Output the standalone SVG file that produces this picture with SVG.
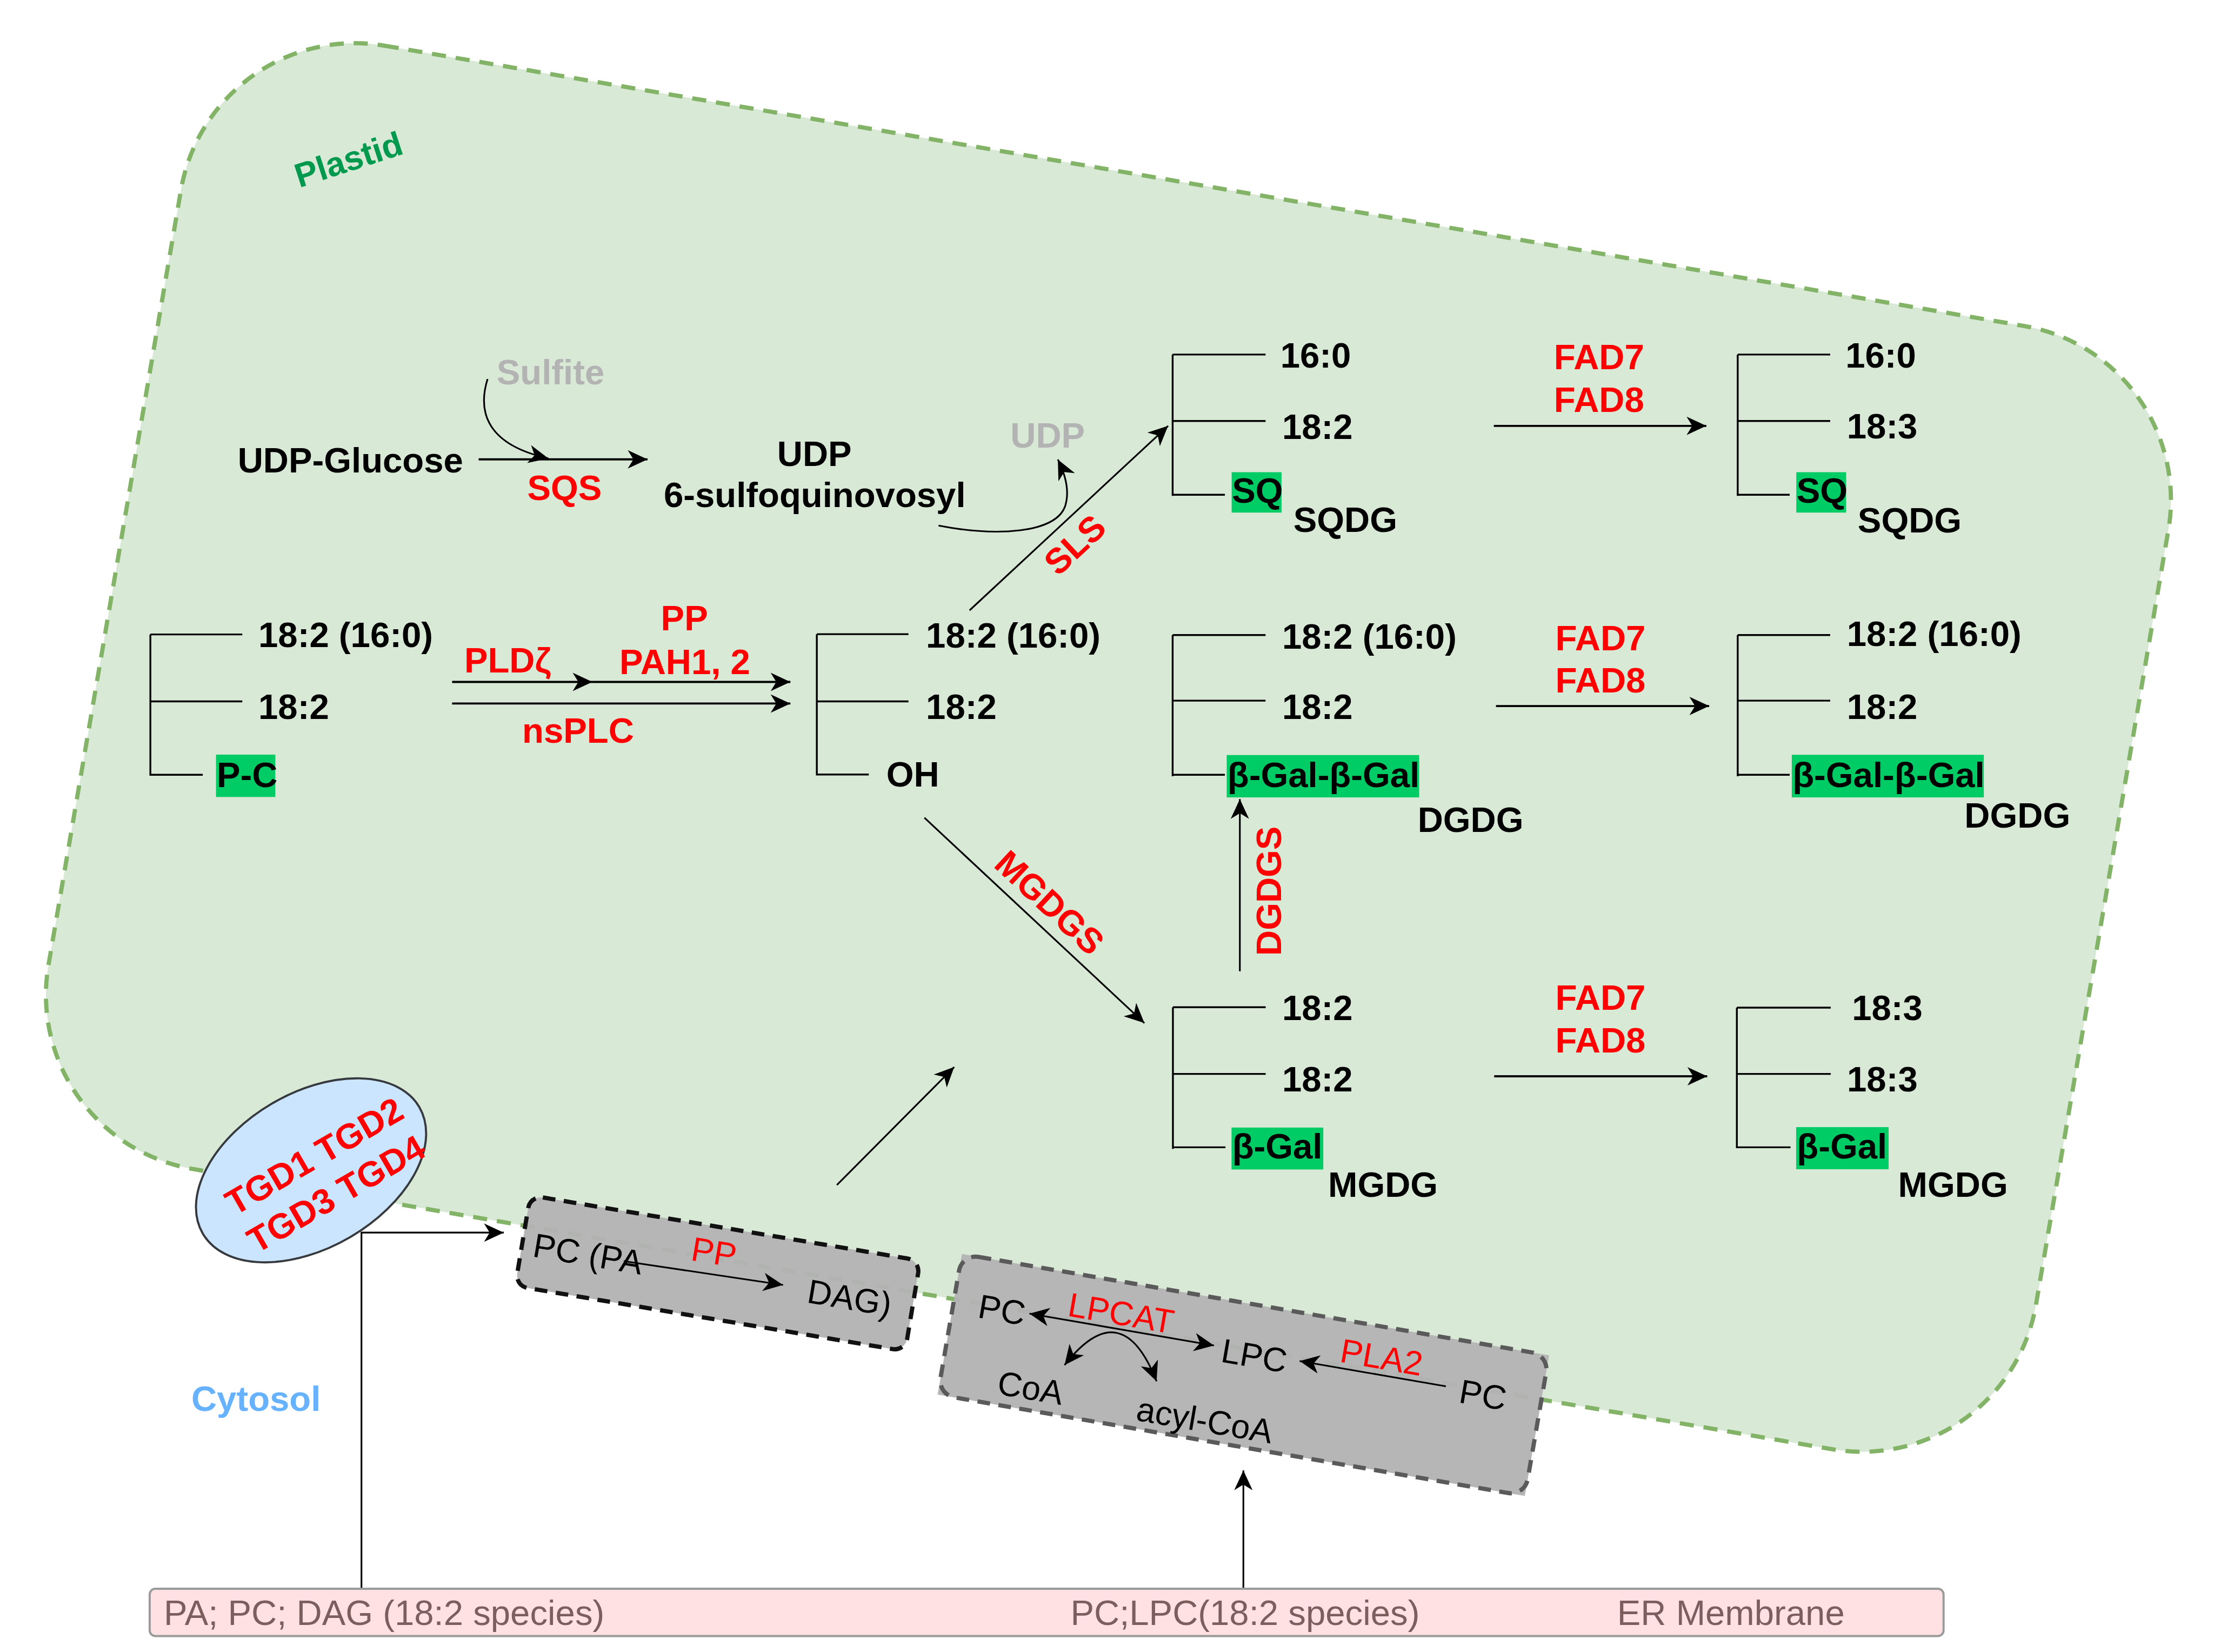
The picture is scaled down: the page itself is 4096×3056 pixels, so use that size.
<svg xmlns="http://www.w3.org/2000/svg" width="4096" height="3056" viewBox="0 0 4096 3056">
<defs>
<style>
.b{font-family:"Liberation Sans",Arial,sans-serif;font-weight:bold;font-size:25px;fill:#000}
.n{font-family:"Liberation Sans",Arial,sans-serif;font-size:24px;fill:#000}
.red{fill:#ff0000}
.gry{fill:#b3b3b3}
.er{font-family:"Liberation Sans",Arial,sans-serif;font-size:25px;fill:#7d5e5e}
.br{stroke:#000;stroke-width:1.3;fill:none}
.hl{fill:#00cc66}
.ar{stroke:#000;stroke-width:1.5;fill:none;marker-end:url(#ah)}
.ar2{stroke:#000;stroke-width:1.2;fill:none;marker-end:url(#ah)}
</style>
<marker id="ah" markerUnits="userSpaceOnUse" markerWidth="30" markerHeight="30" refX="0" refY="0" orient="auto-start-reverse" overflow="visible">
<path d="M0,0 L-14,-6.5 L-10,0 L-14,6.5 Z" fill="#000"/>
</marker>
</defs>
<rect width="4096" height="3056" fill="#fff"/>
<g transform="scale(2.6122)">
<g id="plastid">
<rect x="149" y="-14" width="1428" height="807" rx="125" transform="rotate(9.7)" fill="#d8e9d6" stroke="#82b366" stroke-width="3" stroke-dasharray="10 7"/>
<text class="b" style="fill:#00994d;font-size:24px" transform="translate(212,133) rotate(-18)">Plastid</text>
</g>
<text id="cytosol" class="b" x="135.5" y="999" style="fill:#66b2ff">Cytosol</text>

<g id="tgd">
<ellipse cx="0" cy="0" rx="88.8" ry="54.8" transform="translate(220.3,828.8) rotate(-30.3)" fill="#cce5ff" stroke="#36393d" stroke-width="1.5"/>
<g transform="translate(220.3,828.8) rotate(-30)">
<text class="b red" x="7" y="1" text-anchor="middle">TGD1 TGD2</text>
<text class="b red" x="7" y="32" text-anchor="middle">TGD3 TGD4</text>
</g>
</g>

<g id="pcbox" transform="translate(508.3,901.7) rotate(9.5)">
<rect x="-140" y="-32.5" width="280" height="65" rx="9" fill="#b3b3b3" fill-opacity="0.96" stroke="#111" stroke-width="3" stroke-dasharray="9 6"/>
<text class="n" x="-132" y="10">PC (PA</text>
<text class="n" x="65" y="10">DAG)</text>
<text class="n red" x="-21" y="-6">PP</text>
<line x1="-67" y1="2.5" x2="47" y2="0.5" class="ar2"/>
</g>

<g id="lpcbox" transform="translate(880.6,973.7) rotate(9.8)">
<rect x="-211" y="-50.5" width="422" height="101" fill="#b3b3b3" fill-opacity="0.96"/>
<rect x="-211" y="-50.5" width="422" height="101" rx="12" fill="none" stroke="#5a5a5a" stroke-width="3" stroke-dasharray="9 6"/>
<text class="n" x="-193" y="-8">PC</text>
<text class="n red" x="-130.5" y="-20">LPCAT</text>
<text class="n" x="-18" y="-6.4">LPC</text>
<text class="n red" x="65" y="-20.7">PLA2</text>
<text class="n" x="153" y="-6.7">PC</text>
<text class="n" x="-170.3" y="43">CoA</text>
<text class="n" x="-70.2" y="44.6">acyl-CoA</text>
<line x1="-156.7" y1="-17" x2="-24.1" y2="-17" class="ar2" style="marker-start:url(#ah)"/>
<line x1="142.7" y1="-16.5" x2="37.6" y2="-16.5" class="ar2"/>
<path d="M-126,14.7 Q-95,-43 -59.8,14.9" class="ar2" style="marker-start:url(#ah)"/>
</g>

<g id="pc">
<path class="br" d="M106.5,449.3 V549.3 M106.5,449.3 H171.6 M106.5,496.7 H171.6 M106.5,548.7 H143.6"/>
<text class="b" x="183" y="458.4">18:2 (16:0)</text>
<text class="b" x="183" y="509.3">18:2</text>
<rect class="hl" x="153" y="534.4" width="42" height="30"/>
<text class="b" x="153.5" y="557.3">P-C</text>
</g>

<g id="dag">
<path class="br" d="M578.5,449.1 V549.2 M578.5,449.1 H643.4 M578.5,496.7 H643.4 M578.5,548.5 H615.3"/>
<text class="b" x="655.8" y="458.5">18:2 (16:0)</text>
<text class="b" x="655.8" y="509.1">18:2</text>
<text class="b" x="627.7" y="557.1">OH</text>
</g>

<g id="sqdg1">
<path class="br" d="M830.5,251.1 V351.1 M830.5,251.1 H896.3 M830.5,298.1 H896.3 M830.5,350.4 H867.5"/>
<text class="b" x="906.8" y="260.4">16:0</text>
<text class="b" x="908" y="310.9">18:2</text>
<rect class="hl" x="872.3" y="334.4" width="35.3" height="28.6"/>
<text class="b" x="872.5" y="356.2">SQ</text>
<text class="b" x="916" y="376.7">SQDG</text>
</g>

<g id="sqdg2">
<path class="br" d="M1230.7,251.1 V351.1 M1230.7,251.1 H1296.2 M1230.7,298.1 H1296.2 M1230.7,350.4 H1267.5"/>
<text class="b" x="1307" y="260.4">16:0</text>
<text class="b" x="1308" y="310.4">18:3</text>
<rect class="hl" x="1272.2" y="334.4" width="35.3" height="28.6"/>
<text class="b" x="1272.4" y="356.2">SQ</text>
<text class="b" x="1315.7" y="377.2">SQDG</text>
</g>

<g id="dgdg1">
<path class="br" d="M830.5,449.7 V549.7 M830.5,449.7 H896.3 M830.5,496.2 H896.3 M830.5,548.7 H867.5"/>
<text class="b" x="908" y="459.2">18:2 (16:0)</text>
<text class="b" x="908" y="509.2">18:2</text>
<rect class="hl" x="868.8" y="534.7" width="136.3" height="30"/>
<text class="b" x="869.3" y="557.5">β-Gal-β-Gal</text>
<text class="b" x="1004" y="589">DGDG</text>
</g>

<g id="dgdg2">
<path class="br" d="M1230.7,449.7 V549.7 M1230.7,449.7 H1296.2 M1230.7,496.2 H1296.2 M1230.7,548.7 H1267.5"/>
<text class="b" x="1308" y="457.5">18:2 (16:0)</text>
<text class="b" x="1308" y="509.2">18:2</text>
<rect class="hl" x="1269" y="534.5" width="136" height="30.2"/>
<text class="b" x="1269.5" y="557.5">β-Gal-β-Gal</text>
<text class="b" x="1391.3" y="586">DGDG</text>
</g>

<g id="mgdg1">
<path class="br" d="M830.7,713.3 V813.6 M830.7,713.3 H896.4 M830.7,760.5 H896.4 M830.7,812.5 H867.9"/>
<text class="b" x="908" y="722.4">18:2</text>
<text class="b" x="908" y="772.8">18:2</text>
<rect class="hl" x="872.2" y="798.5" width="65" height="29.7"/>
<text class="b" x="872.7" y="820.5">β-Gal</text>
<text class="b" x="940.6" y="847.6">MGDG</text>
</g>

<g id="mgdg2">
<path class="br" d="M1230.1,713.6 V813.1 M1230.1,713.6 H1296.6 M1230.1,760.5 H1296.6 M1230.1,812.5 H1268.1"/>
<text class="b" x="1311.6" y="722.2">18:3</text>
<text class="b" x="1308.1" y="773">18:3</text>
<rect class="hl" x="1272.1" y="798.2" width="65.5" height="29.8"/>
<text class="b" x="1272.6" y="820.5">β-Gal</text>
<text class="b" x="1344.3" y="847.6">MGDG</text>
</g>

<g id="sulfo">
<text class="b" x="168.3" y="334.7">UDP-Glucose</text>
<text class="b gry" x="351.7" y="272.1">Sulfite</text>
<text class="b" x="576.8" y="329.9" text-anchor="middle">UDP</text>
<text class="b" x="577" y="359.1" text-anchor="middle">6-sulfoquinovosyl</text>
<text class="b gry" x="742" y="317.1" text-anchor="middle">UDP</text>
</g>

<g id="connectors">
<line x1="339" y1="325.3" x2="458.6" y2="325.3" class="ar"/>
<path d="M345.3,268.4 C338,292 345,315 388.4,324.6" class="ar2"/>
<path d="M664.7,372.2 C705,380 748,378 754.5,358 C757.5,348 755,337 749.2,325.4" class="ar2"/>
<line x1="686.7" y1="432.2" x2="827.3" y2="301.6" class="ar2"/>
<line x1="320.2" y1="482.9" x2="419.6" y2="482.9" class="ar"/>
<line x1="419.6" y1="482.9" x2="559.8" y2="482.9" class="ar"/>
<line x1="320.2" y1="498.2" x2="559.8" y2="498.2" class="ar"/>
<line x1="1058" y1="301.6" x2="1208.5" y2="301.6" class="ar"/>
<line x1="1059.5" y1="500" x2="1210.5" y2="500" class="ar"/>
<line x1="1058.2" y1="762.2" x2="1209.1" y2="762.2" class="ar"/>
<line x1="654.7" y1="579.1" x2="810.5" y2="724.5" class="ar2"/>
<line x1="878.1" y1="687.8" x2="878.1" y2="565.9" class="ar2"/>
<line x1="592.7" y1="839.2" x2="675.8" y2="755.6" class="ar2"/>
<polyline points="256,1125 256,872.9 356.8,872.9" class="ar2"/>
<line x1="880.6" y1="1125" x2="880.6" y2="1041.3" class="ar2"/>
</g>

<g id="enzymes">
<text class="b red" x="373.4" y="354.2">SQS</text>
<text class="b red" x="328.8" y="476.1">PLDζ</text>
<text class="b red" x="484.7" y="446.5" text-anchor="middle">PP</text>
<text class="b red" x="485" y="477.2" text-anchor="middle">PAH1, 2</text>
<text class="b red" x="409.4" y="526" text-anchor="middle">nsPLC</text>
<text class="b red" transform="translate(761,385.5) rotate(-43)" x="0" y="9" text-anchor="middle">SLS</text>
<text class="b red" transform="translate(743.6,639) rotate(43)" x="0" y="9" text-anchor="middle">MGDGS</text>
<text class="b red" transform="translate(907.3,631) rotate(-90)" x="0" y="0" text-anchor="middle">DGDGS</text>
<text class="b red" x="1132.5" y="261.6" text-anchor="middle">FAD7</text>
<text class="b red" x="1132.5" y="291.6" text-anchor="middle">FAD8</text>
<text class="b red" x="1133.5" y="460.5" text-anchor="middle">FAD7</text>
<text class="b red" x="1133.5" y="490.5" text-anchor="middle">FAD8</text>
<text class="b red" x="1133.5" y="715" text-anchor="middle">FAD7</text>
<text class="b red" x="1133.5" y="745.3" text-anchor="middle">FAD8</text>
</g>

<g id="er">
<rect x="106" y="1125.1" width="1270.5" height="33.5" rx="4" fill="#ffe1e4" stroke="#9a9a9a" stroke-width="1.5"/>
<text class="er" x="116" y="1150.9">PA; PC; DAG (18:2 species)</text>
<text class="er" x="881.8" y="1150.8" text-anchor="middle">PC;LPC(18:2 species)</text>
<text class="er" x="1225.9" y="1150.8" text-anchor="middle">ER Membrane</text>
</g>
</g>
</svg>
